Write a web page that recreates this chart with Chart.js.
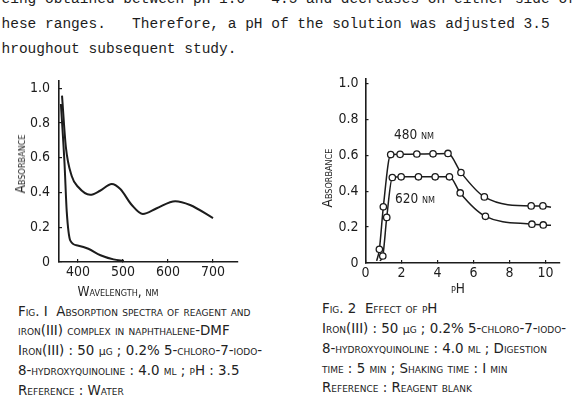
<!DOCTYPE html>
<html>
<head>
<meta charset="utf-8">
<script src="https://cdn.jsdelivr.net/npm/chart.js@4.4.1/dist/chart.umd.min.js"></script>
<style>
  html, body { margin: 0; padding: 0; background: #fff; }
  body { width: 579px; height: 412px; position: relative; overflow: hidden; color: #222; }
  canvas { position: absolute; }
  .para {
    position: absolute; left: 1.5px; top: -13px;
    font-family: 'Liberation Mono', 'DejaVu Sans Mono', monospace;
    font-size: 14.5px; line-height: 24.8px; white-space: pre; color: #1c1c1c;
  }
  .sc {
    position: absolute; white-space: pre; color: #222;
    font-family: 'DejaVu Sans Condensed', 'DejaVu Sans', sans-serif;
    font-variant: small-caps; font-size: 13.5px;
  }
  .cap { font-family: 'DejaVu Sans', sans-serif; font-size: 13.4px; line-height: 19.6px; }
  .mu { font-variant: normal; font-size: 11px; }
  .rot { transform: translate(-50%, -50%) rotate(-90deg); }
  .mid { transform: translate(-50%, -50%); }
</style>
</head>
<body>

<div class="para">eing obtained between pH 1.0 - 4.5 and decreases on either side of
hese ranges.   Therefore, a pH of the solution was adjusted 3.5
hroughout subsequent study.</div>

<canvas id="fig1" width="290" height="230" style="left:0;top:60px"></canvas>
<canvas id="fig2" width="289" height="230" style="left:290px;top:60px"></canvas>

<div class="sc rot" style="left:20px;top:164px">Absorbance</div>
<div class="sc mid" style="left:118px;top:291px">Wavelength, nm</div>
<div class="sc rot" style="left:327px;top:178px">Absorbance</div>
<div class="sc mid" style="left:458px;top:288px">pH</div>
<div class="sc mid" style="left:414px;top:134px">480 nm</div>
<div class="sc mid" style="left:415px;top:198px">620 nm</div>

<div class="sc cap" style="left:18px;top:301.5px">Fig. I  Absorption spectra of reagent and
iron(III) complex in naphthalene-DMF
Iron(III) : 50 <span class="mu">µ</span>g ; 0.2% 5-chloro-7-iodo-
8-hydroxyquinoline : 4.0 ml ; pH : 3.5
Reference : Water</div>

<div class="sc cap" style="left:322px;top:299px">Fig. 2  Effect of pH
Iron(III) : 50 <span class="mu">µ</span>g ; 0.2% 5-chloro-7-iodo-
8-hydroxyquinoline : 4.0 ml ; Digestion
time : 5 min ; Shaking time : I min
Reference : Reagent blank</div>

<script>
// Fig. 1 — absorption spectra
var wavelengthTicks = [400, 500, 600, 700];
var absorbanceTicks = [0, 0.2, 0.4, 0.6, 0.8, 1.0];
var absorbanceLabels = ['0', '0.2', '0.4', '0.6', '0.8', '1.0'];

var complexWavelength = [364.5, 373, 386, 401, 427, 449, 475, 494, 519.5, 544, 575, 616, 649, 700];
var complexAbsorbance = [0.957, 0.663, 0.495, 0.43, 0.387, 0.41, 0.449, 0.42, 0.328, 0.276, 0.309, 0.35, 0.328, 0.253];

var reagentWavelength = [362, 370, 375, 383, 399, 423, 450, 479, 502];
var reagentAbsorbance = [0.909, 0.57, 0.29, 0.123, 0.095, 0.076, 0.039, 0.015, 0.006];

// Fig. 2 — effect of pH
var phTicks = [0, 2, 4, 6, 8, 10];
var phTickLabels = ['0', '2', '4', '6', '8', '10'];

var ph480 = [0.62, 0.77, 0.99, 1.40, 1.92, 2.85, 3.75, 4.58, 5.3, 6.6, 9.2, 9.85, 10.3];
var abs480 = [0.012, 0.076, 0.313, 0.604, 0.605, 0.607, 0.608, 0.61, 0.504, 0.368, 0.318, 0.318, 0.31];

var ph620 = [0.8, 0.96, 1.18, 1.49, 1.98, 2.94, 3.87, 4.66, 5.26, 6.66, 9.24, 9.87, 10.3];
var abs620 = [0.012, 0.039, 0.254, 0.476, 0.48, 0.48, 0.48, 0.48, 0.39, 0.26, 0.216, 0.212, 0.21];

(function () {
  'use strict';

  var ink = '#1c1c1c';
  var tickFont = { family: "'Liberation Sans Narrow', 'DejaVu Sans Condensed', sans-serif", size: 14 };

  function pts(xs, ys) {
    return xs.map(function (x, i) { return { x: x, y: ys[i] }; });
  }

  // curve runs a little past the first and last measured point, no marker there
  function endsHidden(ctx) {
    var n = ctx.dataset.data.length;
    return (ctx.dataIndex === 0 || ctx.dataIndex === n - 1) ? 0 : 3.2;
  }

  function makeChart(id, o) {
    return new Chart(document.getElementById(id), {
      type: 'line',
      data: { datasets: o.datasets },
      options: {
        responsive: false,
        animation: false,
        layout: { padding: o.padding },
        plugins: { legend: { display: false }, tooltip: { enabled: false } },
        scales: {
          x: {
            type: 'linear',
            min: o.xMin,
            max: o.xMax,
            afterBuildTicks: function (s) { s.ticks = o.xTicks.map(function (v) { return { value: v }; }); },
            afterFit: function (s) { s.height = o.xHeight; },
            grid: { drawOnChartArea: false, drawTicks: true, tickLength: -3, color: ink, lineWidth: 1.2 },
            border: { display: true, color: ink, width: 1.6 },
            ticks: {
              font: tickFont, color: ink, padding: o.xPad, maxRotation: 0, autoSkip: false,
              callback: function (v, i) { return o.xLabels[i]; }
            }
          },
          y: {
            type: 'linear',
            min: 0,
            max: o.yMax,
            afterBuildTicks: function (s) { s.ticks = absorbanceTicks.map(function (v) { return { value: v }; }); },
            afterFit: function (s) { s.width = o.yWidth; },
            grid: { drawOnChartArea: false, drawTicks: true, tickLength: -3, color: ink, lineWidth: 1.2 },
            border: { display: true, color: ink, width: 1.6 },
            ticks: {
              font: tickFont, color: ink, padding: o.yPad, autoSkip: false,
              callback: function (v, i) { return absorbanceLabels[i]; }
            }
          }
        }
      }
    });
  }

  makeChart('fig1', {
    padding: { left: 0, right: 52, top: 15, bottom: 0 },
    xMin: 357.8, xMax: 755.5, xTicks: wavelengthTicks,
    xLabels: wavelengthTicks.map(String),
    xHeight: 28, xPad: 5, yMax: 1.045, yWidth: 59, yPad: 12,
    datasets: [
      {
        data: pts(complexWavelength, complexAbsorbance),
        borderColor: ink, borderWidth: 2, pointRadius: 0,
        cubicInterpolationMode: 'monotone', fill: false
      },
      {
        data: pts(reagentWavelength, reagentAbsorbance),
        borderColor: ink, borderWidth: 2, pointRadius: 0,
        cubicInterpolationMode: 'monotone', fill: false
      }
    ]
  });

  makeChart('fig2', {
    padding: { left: 0, right: 19, top: 18, bottom: 0 },
    xMin: 0, xMax: 10.8, xTicks: phTicks, xLabels: phTickLabels,
    xHeight: 27, xPad: 4.5, yMax: 1.028, yWidth: 75.5, yPad: 10,
    datasets: [
      {
        data: pts(ph480, abs480),
        borderColor: ink, borderWidth: 1.5,
        pointRadius: endsHidden, pointBackgroundColor: '#fff',
        pointBorderColor: ink, pointBorderWidth: 1.3,
        cubicInterpolationMode: 'monotone', fill: false
      },
      {
        data: pts(ph620, abs620),
        borderColor: ink, borderWidth: 1.5,
        pointRadius: endsHidden, pointBackgroundColor: '#fff',
        pointBorderColor: ink, pointBorderWidth: 1.3,
        cubicInterpolationMode: 'monotone', fill: false
      }
    ]
  });
})();
</script>
</body>
</html>
